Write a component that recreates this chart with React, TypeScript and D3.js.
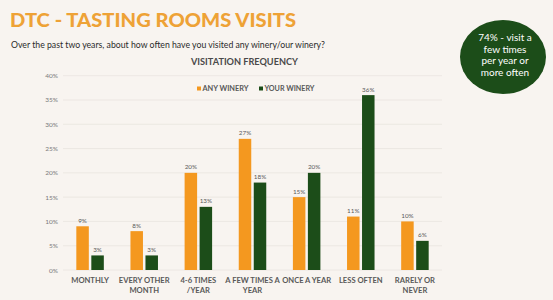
import React from 'react';
import * as d3 from 'd3';

const categories = [
  ['MONTHLY'],
  ['EVERY OTHER', 'MONTH'],
  ['4-6 TIMES', '/YEAR'],
  ['A FEW TIMES A', 'YEAR'],
  ['ONCE A YEAR'],
  ['LESS OFTEN'],
  ['RARELY OR', 'NEVER'],
];
const anyWinery = [9, 8, 20, 27, 15, 11, 10];
const yourWinery = [3, 3, 13, 18, 20, 36, 6];
const yTicks = [0, 5, 10, 15, 20, 25, 30, 35, 40];
const seriesNames = ['ANY WINERY', 'YOUR WINERY'];

const ORANGE = '#f4981f';
const GREEN = '#1c4d19';
const FONT = 'Lato, "Open Sans", sans-serif';

const App: React.FC = () => {
  const width = 553;
  const height = 300;
  const plot = { left: 63, right: 442, top: 75.7, bottom: 270 };

  const x = d3.scaleBand<number>()
    .domain(categories.map((_, i) => i))
    .range([plot.left, plot.right])
    .paddingInner(0)
    .paddingOuter(0);
  const y = d3.scaleLinear().domain([0, 40]).range([plot.bottom, plot.top]);
  const barW = 12.5;
  const gap = 2.5;

  return (
    <div style={{ position: 'fixed', top: 0, left: 0, width, height, background: '#f8f4f0', overflow: 'hidden' }}>
      <svg width={width} height={height} style={{ display: 'block' }}>
        <rect width={width} height={height} fill="#f8f4f0" />
        <text x={10} y={27} fill="#eea236" fontFamily={FONT} fontWeight={900} fontSize={19}
          textLength={286} lengthAdjust="spacingAndGlyphs">
          DTC - TASTING ROOMS VISITS
        </text>
        <text x={11} y={47.5} fill="#2b2b2b" fontFamily={FONT} fontSize={8.8}
          textLength={314} lengthAdjust="spacingAndGlyphs">
          Over the past two years, about how often have you visited any winery/our winery?
        </text>

        <ellipse cx={503} cy={57} rx={43} ry={37} fill={GREEN} />
        {['74% - visit a', 'few times', 'per year or', 'more often'].map((t, i) => (
          <text key={t} x={505} y={41 + i * 11.5} fill="#fff" textAnchor="middle"
            fontFamily={FONT} fontSize={10}>{t}</text>
        ))}

        <text x={191} y={64.5} fill="#4a4a4a" fontFamily={FONT}
          fontWeight={700} fontSize={9.3} textLength={107} lengthAdjust="spacingAndGlyphs">VISITATION FREQUENCY</text>

        {yTicks.map(t => (
          <g key={t}>
            <line x1={plot.left} x2={plot.right} y1={y(t)} y2={y(t)} stroke="#e8e4e0" strokeWidth={0.8} />
            <text x={58} y={y(t) + 2.5} textAnchor="end" fill="#7a7a7a" fontFamily={FONT} fontSize={6.5}>{t}%</text>
          </g>
        ))}

        {seriesNames.map((name, i) => {
          const lx = i === 0 ? 197 : 259;
          return (
            <g key={name}>
              <rect x={lx} y={86.5} width={4} height={4} fill={i === 0 ? ORANGE : GREEN} />
              <text x={lx + 5.5} y={91} fill="#595959" fontFamily={FONT} fontWeight={700} fontSize={6.8}
                textLength={i === 0 ? 46 : 50} lengthAdjust="spacingAndGlyphs">{name}</text>
            </g>
          );
        })}

        {categories.map((lines, i) => {
          const cx = (x(i) ?? 0) + x.bandwidth() / 2;
          const bars = [
            { v: anyWinery[i], c: ORANGE, x0: cx - gap / 2 - barW },
            { v: yourWinery[i], c: GREEN, x0: cx + gap / 2 },
          ];
          return (
            <g key={i}>
              {bars.map((b, j) => (
                <g key={j}>
                  <rect x={b.x0} y={y(b.v)} width={barW} height={y(0) - y(b.v)} fill={b.c} />
                  <text x={b.x0 + barW / 2} y={y(b.v) - 3.5} textAnchor="middle" fill="#595959"
                    fontFamily={FONT} fontSize={6.3}>{b.v}%</text>
                </g>
              ))}
              {lines.map((l, k) => (
                <text key={k} x={cx} y={283 + k * 10} textAnchor="middle" fill="#595959"
                  fontFamily={FONT} fontWeight={700} fontSize={7.6}>{l}</text>
              ))}
            </g>
          );
        })}
      </svg>
    </div>
  );
};

export default App;
